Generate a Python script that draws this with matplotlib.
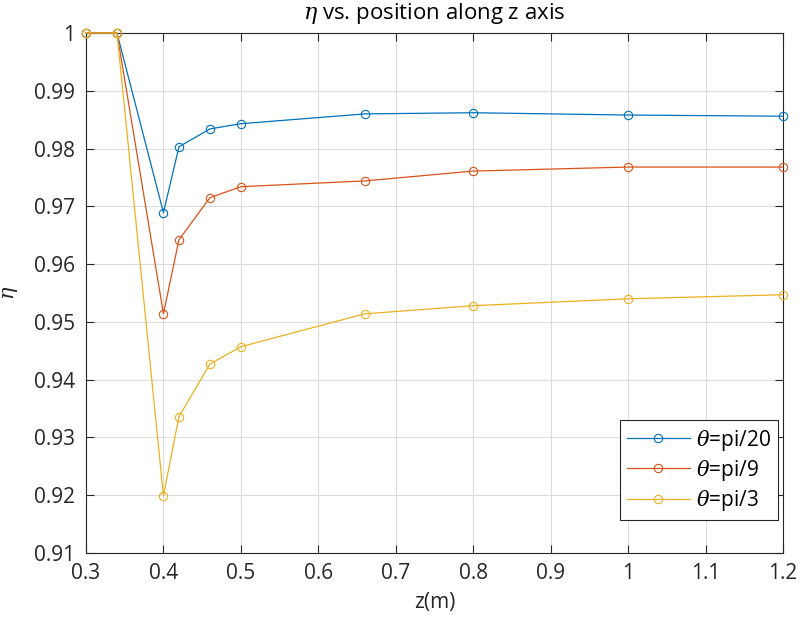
# eta vs z position for three theta values

import matplotlib.pyplot as plt

plt.rcParams['font.family'] = ['Open Sans', 'DejaVu Sans']
plt.rcParams['mathtext.fontset'] = 'dejavuserif'

z = [0.3, 0.34, 0.4, 0.42, 0.46, 0.5, 0.66, 0.8, 1.0, 1.2]
eta_pi20 = [1.0, 1.0, 0.9689, 0.9803, 0.9834, 0.9843, 0.9860, 0.9862, 0.9858, 0.9856]
eta_pi9 = [1.0, 1.0, 0.9514, 0.9642, 0.9715, 0.9734, 0.9744, 0.9761, 0.9768, 0.9768]
eta_pi3 = [1.0, 1.0, 0.9199, 0.9336, 0.9427, 0.9457, 0.9514, 0.9528, 0.9540, 0.9547]
labels = [r'$\theta$=pi/20', r'$\theta$=pi/9', r'$\theta$=pi/3']
colors = ['#0072BD', '#D95319', '#EDB120']

fig = plt.figure(figsize=(8, 6.25), dpi=100)
ax = fig.add_axes([86/800, 1-553/625, (783-86)/800, (553-33)/625])

for y, lab, c in zip([eta_pi20, eta_pi9, eta_pi3], labels, colors):
    ax.plot(z, y, '-o', color=c, mfc='none', ms=6, lw=0.9, mew=0.8, label=lab, clip_on=False, zorder=3)

ax.set_xlim(0.3, 1.2)
ax.set_ylim(0.91, 1.0)
ax.set_xticks([0.3, 0.4, 0.5, 0.6, 0.7, 0.8, 0.9, 1.0, 1.1, 1.2])
ax.set_xticklabels(['0.3', '0.4', '0.5', '0.6', '0.7', '0.8', '0.9', '1', '1.1', '1.2'])
ax.set_yticks([0.91, 0.92, 0.93, 0.94, 0.95, 0.96, 0.97, 0.98, 0.99, 1.0])
ax.set_yticklabels(['0.91', '0.92', '0.93', '0.94', '0.95', '0.96', '0.97', '0.98', '0.99', '1'])
ax.grid(True, color='#dcdcdc', lw=0.8)
ax.tick_params(direction='in', top=True, right=True, labelsize=15, colors='#262626', length=6)
ax.tick_params(axis='x', pad=7)
ax.tick_params(axis='y', pad=8)
for s in ax.spines.values():
    s.set_color('#262626')
    s.set_linewidth(0.8)

ax.set_xlabel('z(m)', fontsize=15, color='#262626', labelpad=6)
ax.set_ylabel(r'$\eta$', fontsize=15, color='#262626', labelpad=10)
ax.set_title(r'$\eta$ vs. position along z axis', fontsize=16, color='#000000', pad=10)

leg = ax.legend(loc='lower right', bbox_to_anchor=(0.993, 0.063), fontsize=15, fancybox=False,
                edgecolor='#262626', framealpha=1, handlelength=3.0, handletextpad=0.3,
                borderpad=0.35, labelspacing=0.25, borderaxespad=0)
leg.get_frame().set_linewidth(0.8)

plt.savefig('out.png')
